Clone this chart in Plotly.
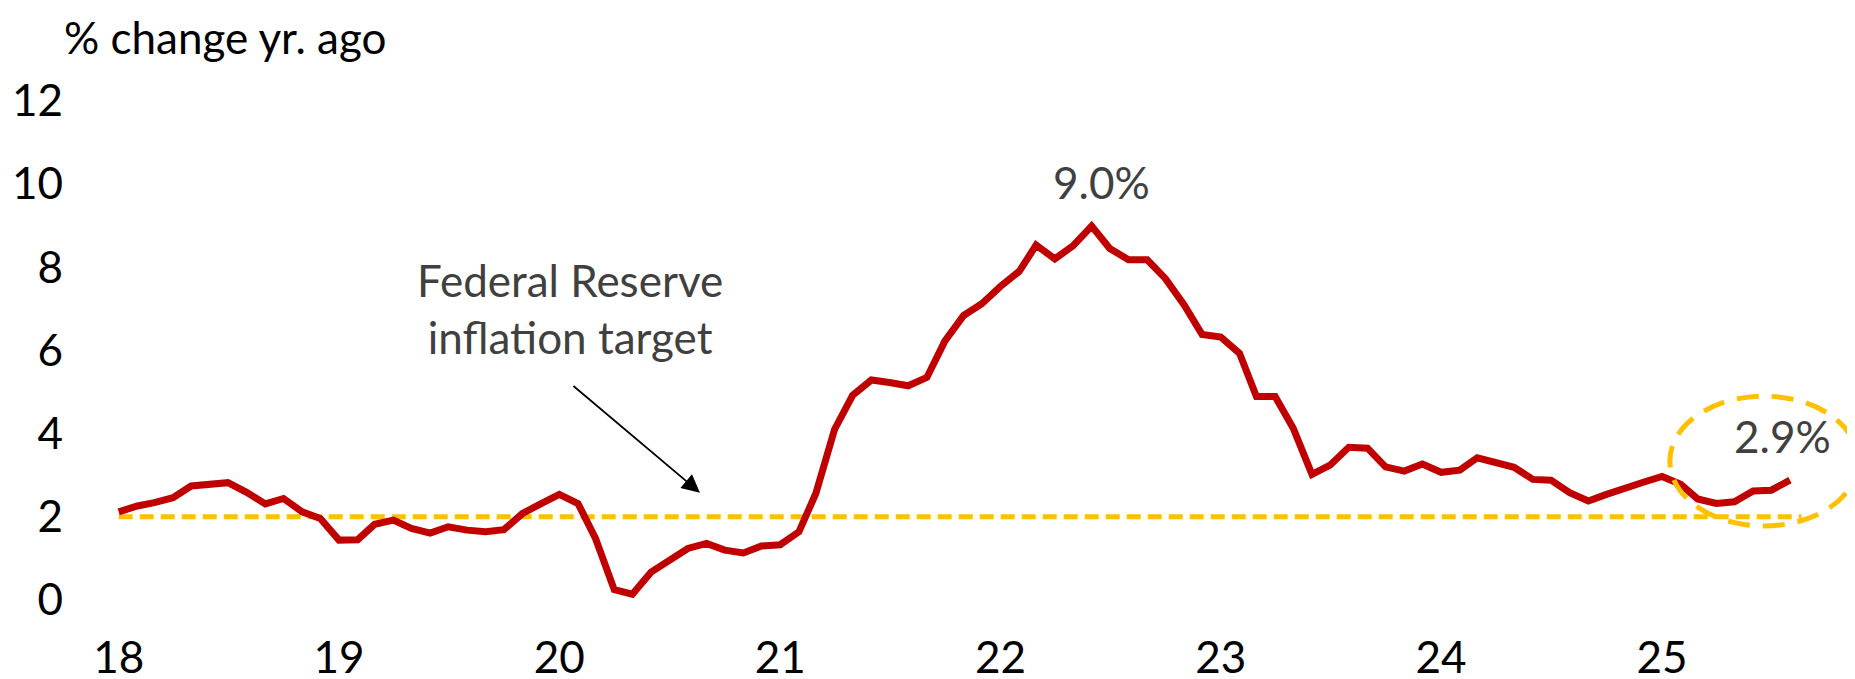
import pandas as pd
import plotly.graph_objects as go

# CPI, % change vs year ago, monthly Jan 2018 - Aug 2025
cpi_2018 = [2.12, 2.26, 2.34, 2.46, 2.74, 2.76, 2.82, 2.59, 2.31, 2.44, 2.12, 1.96]
cpi_2019 = [1.44, 1.45, 1.82, 1.92, 1.72, 1.61, 1.76, 1.68, 1.64, 1.69, 2.08, 2.31]
cpi_2020 = [2.54, 2.32, 1.48, 0.25, 0.14, 0.67, 0.96, 1.24, 1.36, 1.20, 1.13, 1.30]
cpi_2021 = [1.33, 1.64, 2.56, 4.10, 4.92, 5.29, 5.23, 5.15, 5.35, 6.23, 6.84, 7.12]
cpi_2022 = [7.54, 7.90, 8.53, 8.20, 8.51, 8.99, 8.45, 8.18, 8.18, 7.73, 7.10, 6.38]
cpi_2023 = [6.32, 5.93, 4.89, 4.89, 4.13, 3.02, 3.24, 3.67, 3.65, 3.20, 3.10, 3.27]
cpi_2024 = [3.07, 3.12, 3.42, 3.31, 3.19, 2.90, 2.88, 2.58, 2.38, 2.54, 2.67, 2.83]
cpi_2025 = [2.97, 2.78, 2.43, 2.32, 2.36, 2.62, 2.64, 2.88]

cpi = cpi_2018 + cpi_2019 + cpi_2020 + cpi_2021 + cpi_2022 + cpi_2023 + cpi_2024 + cpi_2025
months = pd.date_range("2018-01-01", periods=len(cpi), freq="MS")

fed_target = 2.0
target_end = "2025-08-20"

year_ticks = ["2018-01-01", "2019-01-01", "2020-01-01", "2021-01-01",
              "2022-01-01", "2023-01-01", "2024-01-01", "2025-01-01"]
year_labels = ["18", "19", "20", "21", "22", "23", "24", "25"]
y_ticks = [0, 2, 4, 6, 8, 10, 12]

FONT = "Lato"
FS = 44
RED = "#C00000"
GOLD = "#FFC000"
GREY = "#404040"

fig = go.Figure()

fig.add_trace(go.Scatter(
    x=[months[0], target_end], y=[fed_target, fed_target],
    mode="lines",
    line=dict(color=GOLD, width=5, dash="14px,7px"),
    hoverinfo="skip",
))

fig.add_trace(go.Scatter(
    x=months, y=cpi,
    mode="lines",
    line=dict(color=RED, width=7),
    name="CPI",
))

# annotations
fig.add_annotation(
    x="2020-01-18", y=7.0, text="Federal Reserve<br>inflation target",
    showarrow=False, font=dict(family=FONT, size=FS, color=GREY),
)
fig.add_annotation(
    x="2020-08-21", y=2.58, text="",
    showarrow=True, arrowhead=2, arrowsize=2.0, arrowwidth=1.8,
    arrowcolor="black", ax=-128, ay=-108,
)
fig.add_annotation(
    x="2022-06-17", y=10.05, text="9.0%",
    showarrow=False, font=dict(family=FONT, size=FS, color=GREY),
)
fig.add_annotation(
    x="2025-07-20", y=3.95, text="2.9%",
    showarrow=False, font=dict(family=FONT, size=FS, color=GREY),
)

fig.add_shape(
    type="circle", xref="x", yref="y",
    x0="2025-01-14", x1="2025-11-22", y0=1.78, y1=4.9,
    line=dict(color=GOLD, width=5, dash="22px,13px"),
)

fig.update_layout(
    width=1855, height=679,
    margin=dict(l=92, r=0, t=52, b=67),
    paper_bgcolor="white", plot_bgcolor="white",
    showlegend=False,
    font=dict(family=FONT, size=FS, color="black"),
    title=dict(
        text="% change yr. ago", x=56 / 1855, xanchor="left",
        y=1 - 31 / 679, yanchor="middle", yref="container",
        font=dict(family=FONT, size=FS, color="black"),
    ),
    xaxis=dict(
        range=["2017-12-01", "2025-11-30"],
        tickvals=year_ticks, ticktext=year_labels,
        showgrid=False, zeroline=False, showline=False,
        ticks="", ticklabelstandoff=8,
    ),
    yaxis=dict(
        range=[-0.48, 12.98],
        tickvals=y_ticks,
        showgrid=False, zeroline=False, showline=False,
        ticks="", ticklabelstandoff=36,
    ),
)

fig.write_html("out.html")
